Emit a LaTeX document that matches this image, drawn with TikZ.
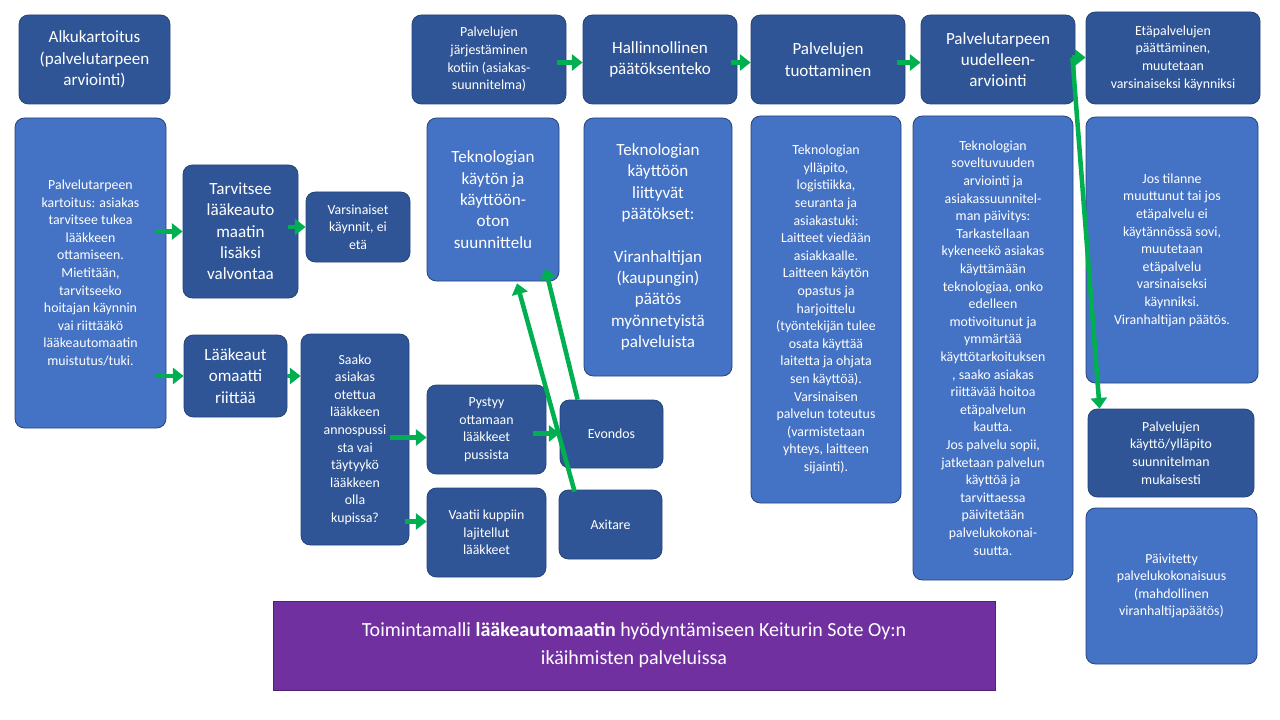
\documentclass[tikz,border=0pt]{standalone}
\usepackage{fontspec}
\setmainfont{Carlito}
\usetikzlibrary{arrows.meta,calc}
\definecolor{dk}{HTML}{2F5597}
\definecolor{lt}{HTML}{4472C4}
\definecolor{gr}{HTML}{00B050}
\definecolor{pu}{HTML}{7030A0}
\tikzset{
 base/.style={rounded corners=7pt,text=white,align=center,inner sep=0pt,draw=dk!80!black,line width=0.6pt},
 dkb/.style={base,fill=dk},
 ltb/.style={base,fill=lt},
 sm/.style={font=\fontsize{10.4}{13.2}\selectfont},
 bg/.style={font=\fontsize{12.8}{16}\selectfont},
 ga/.style={draw=gr,line width=3.4pt,-{Triangle[length=8pt,width=12pt]}}
}
\newcommand\bx[7]{\node[#6, minimum width={(#4-#2)*0.75pt}, minimum height={(#5-#3)*0.75pt}] (#1) at ({(#2+#4)/2},{(#3+#5)/2}) {#7};}
\begin{document}
\begin{tikzpicture}[x=0.75pt,y=-0.75pt]
\useasboundingbox (0,0) rectangle (1280,720);
\bx{A}{19}{15}{170}{104}{dkb,bg}{Alkukartoitus\\(palvelutarpeen\\arviointi)}
\bx{B}{15}{118}{166}{428}{ltb,sm}{Palvelutarpeen\\kartoitus: asiakas\\tarvitsee tukea\\lääkkeen\\ottamiseen.\\Mietitään,\\tarvitseeko\\hoitajan käynnin\\vai riittääkö\\lääkeautomaatin\\muistutus/tuki.}
\bx{C}{183}{165}{298}{298}{dkb,bg}{Tarvitsee\\lääkeauto\\maatin\\lisäksi\\valvontaa}
\bx{D}{306}{192}{410}{262}{dkb,sm}{Varsinaiset\\käynnit, ei\\etä}
\bx{E}{184}{335}{287}{417}{dkb,bg}{Lääkeaut\\omaatti\\riittää}
\bx{F}{301}{334}{409}{545}{dkb,sm}{Saako\\asiakas\\otettua\\lääkkeen\\annospussi\\sta vai\\täytyykö\\lääkkeen\\olla\\kupissa?}
\bx{G}{427}{385}{546}{474}{dkb,sm}{Pystyy\\ottamaan\\lääkkeet\\pussista}
\bx{H}{427}{488}{546}{577}{dkb,sm}{Vaatii kuppiin\\lajitellut\\lääkkeet}
\bx{I}{560}{400}{663}{468}{dkb,sm}{Evondos}
\bx{J}{559}{490}{662}{559}{dkb,sm}{Axitare}
\bx{K}{427}{118}{559}{281}{ltb,bg}{Teknologian\\käytön ja\\käyttöön-\\oton\\suunnittelu}
\bx{L}{412}{15}{566}{104}{dkb,sm}{Palvelujen\\järjestäminen\\kotiin (asiakas-\\suunnitelma)}
\bx{M}{583}{15}{737}{104}{dkb,bg}{Hallinnollinen\\päätöksenteko}
\bx{N}{584}{118}{732}{376}{ltb,bg}{Teknologian\\käyttöön\\liittyvät\\päätökset:\\[16pt]Viranhaltijan\\(kaupungin)\\päätös\\myönnetyistä\\palveluista}
\bx{O}{751}{15}{905}{104}{dkb,bg}{Palvelujen\\tuottaminen}
\bx{P}{751}{116}{901}{503}{ltb,sm}{Teknologian\\ylläpito,\\logistiikka,\\seuranta ja\\asiakastuki:\\Laitteet viedään\\asiakkaalle.\\Laitteen käytön\\opastus ja\\harjoittelu\\(työntekijän tulee\\osata käyttää\\laitetta ja ohjata\\sen käyttöä).\\Varsinaisen\\palvelun toteutus\\(varmistetaan\\yhteys, laitteen\\sijainti).}
\bx{Q}{921}{15}{1075}{104}{dkb,bg}{Palvelutarpeen\\uudelleen-\\arviointi}
\bx{R}{913}{116}{1073}{580}{ltb,sm}{Teknologian\\soveltuvuuden\\arviointi ja\\asiakassuunnitel-\\man päivitys:\\Tarkastellaan\\kykeneekö asiakas\\käyttämään\\teknologiaa, onko\\edelleen\\motivoitunut ja\\ymmärtää\\käyttötarkoituksen\\, saako asiakas\\riittävää hoitoa\\etäpalvelun\\kautta.\\Jos palvelu sopii,\\jatketaan palvelun\\käyttöä ja\\tarvittaessa\\päivitetään\\palvelukokonai-\\suutta.}
\bx{S}{1086}{12}{1260}{104}{dkb,sm}{Etäpalvelujen\\päättäminen,\\muutetaan\\varsinaiseksi käynniksi}
\bx{T}{1086}{117}{1258}{383}{ltb,sm}{Jos tilanne\\muuttunut  tai jos\\etäpalvelu ei\\käytännössä sovi,\\muutetaan\\etäpalvelu\\varsinaiseksi\\käynniksi.\\Viranhaltijan päätös.}
\bx{U}{1088}{409}{1254}{497}{dkb,sm}{Palvelujen\\käyttö/ylläpito\\suunnitelman\\mukaisesti}
\bx{V}{1086}{508}{1257}{664}{ltb,sm}{Päivitetty\\palvelukokonaisuus\\(mahdollinen\\viranhaltijapäätös)}
\node[fill=pu,draw=pu!70!black,text=white,align=center,inner sep=0pt,minimum width={722*0.75pt},minimum height={89*0.75pt},font=\fontsize{15}{21}\selectfont] (W) at (634,645.5) {Toimintamalli \textbf{lääkeautomaatin} hyödyntämiseen Keiturin Sote Oy:n\\ikäihmisten palveluissa};
\draw[ga] ($(B.east|-C.west)+(-10,0)$) -- (C.west);
\draw[ga] ($(C.east|-D.west)+(-10,0)$) -- (D.west);
\draw[ga] ($(B.east|-E.west)+(-10,0)$) -- (E.west);
\draw[ga] (E.east) -- (F.west|-E.east);
\draw[ga] ($(F.east|-G.west)+(-19,8)$) -- ($(G.west)+(0,8)$);
\draw[ga] ($(F.east|-H.west)+(-4,-11)$) -- ($(H.west)+(0,-11)$);
\draw[ga] ($(G.east)+(-13,4)$) -- (I.west|-{$(G.east)+(0,4)$});
\draw[ga] ($(I.north west)+(18,0)$) -- ($(K.south east)+(-14,-13)$);
\draw[ga] ($(J.north west)+(16,2)$) -- ($(K.south)+(24,2)$);
\draw[ga] ($(L.east)+(-9,3)$) -- ($(M.west)+(0,3)$);
\draw[ga] ($(M.east)+(-6,3)$) -- ($(O.west)+(0,3)$);
\draw[ga] ($(O.east)+(-8,3)$) -- ($(Q.west)+(0,3)$);
\coordinate (q) at ($(Q.east)+(-3,-2)$);
\draw[ga] (q) -- (S.west|-q);
\draw[ga] (q) -- ($(U.north west)+(12,0)$);
\end{tikzpicture}
\end{document}
